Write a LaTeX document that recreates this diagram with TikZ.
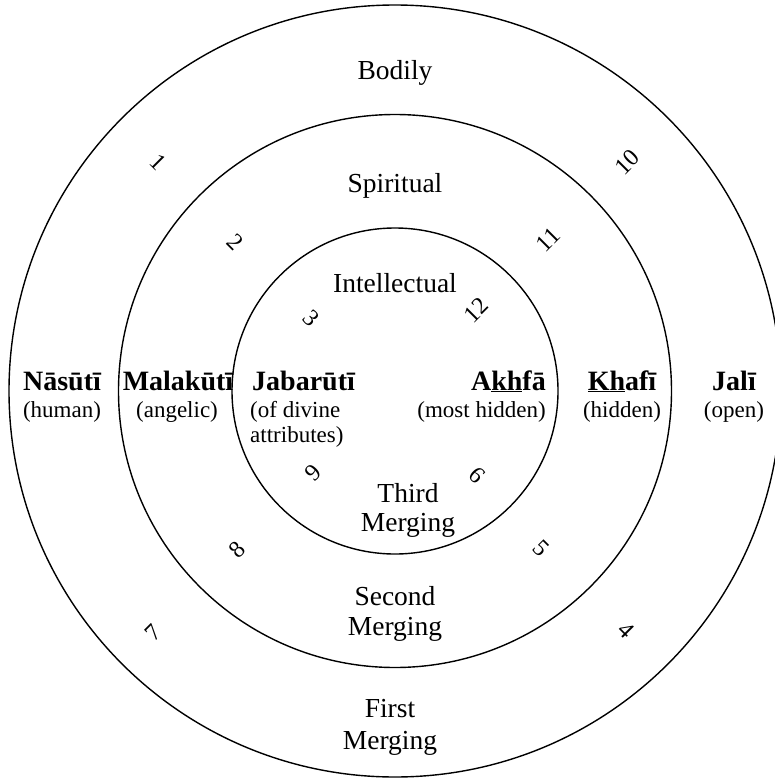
\documentclass[tikz,border=0pt]{standalone}
\usepackage{fontspec}
\setmainfont{Liberation Serif}
\begin{document}
\begin{tikzpicture}[x=1pt,y=-1pt,
  ring/.style={draw, line width=1.4pt},
  lvl/.style={font=\fontsize{27.5}{32}\selectfont, inner sep=0pt, anchor=base},
  bname/.style={font=\fontsize{28}{32}\selectfont\bfseries, inner sep=0pt, anchor=base},
  gloss/.style={font=\fontsize{23}{27}\selectfont, inner sep=0pt, anchor=base},
  stepnum/.style={font=\fontsize{24}{28}\selectfont, inner sep=0pt}
]
\useasboundingbox (0,0) rectangle (775,779);

% three concentric rings
\coordinate (c) at (395,391);
\draw[ring] (c) circle[radius=386];
\draw[ring] (c) circle[radius=276.5];
\draw[ring] (c) circle[radius=163];

% levels
\node[lvl] (bodily) at (395,79) {Bodily};
\node[lvl] (spiritual) at (395,192) {Spiritual};
\node[lvl] (intellectual) at (395,292) {Intellectual};

% left side
\node[bname] (nasuti) at (62,390) {Nāsūtī};
\node[gloss] (human) at (62,417) {(human)};
\node[bname] (malakuti) at (178,390) {Malakūtī};
\node[gloss] (angelic) at (177,417) {(angelic)};
\node[bname, anchor=base west] (jabaruti) at (252,390) {Jabarūtī};
\node[gloss, anchor=base west] (divine1) at (250,417) {(of divine};
\node[gloss, anchor=base west] (divine2) at (250,442) {attributes)};

% right side
\node[bname, anchor=base east] (akhfa) at (546,390) {A\underline{kh}fā};
\node[gloss, anchor=base east] (mosthidden) at (546,417) {(most hidden)};
\node[bname] (khafi) at (622,390) {\underline{Kh}afī};
\node[gloss] (hidden) at (622,417) {(hidden)};
\node[bname] (jali) at (734,390) {Jalī};
\node[gloss] (open) at (734,417) {(open)};

% mergings
\node[lvl] (third1) at (408,502) {Third};
\node[lvl] (third2) at (408,531) {Merging};
\node[lvl] (second1) at (395,605) {Second};
\node[lvl] (second2) at (395,635) {Merging};
\node[lvl] (first1) at (390,717) {First};
\node[lvl] (first2) at (390,749) {Merging};

% numbered steps
\node[stepnum, rotate=-45] (n1) at (158,162) {1};
\node[stepnum, rotate=-45] (n2) at (235,242) {2};
\node[stepnum, rotate=-45] (n3) at (311,318) {3};
\node[stepnum, rotate=-45] (n4) at (626,630) {4};
\node[stepnum, rotate=-45] (n5) at (541,548) {5};
\node[stepnum, rotate=-45] (n6) at (477,475) {6};
\node[stepnum, rotate=45] (n7) at (153,633) {7};
\node[stepnum, rotate=45] (n8) at (237,550) {8};
\node[stepnum, rotate=45] (n9) at (313,473) {9};
\node[stepnum, rotate=45] (n10) at (627,162) {10};
\node[stepnum, rotate=45] (n11) at (548,240) {11};
\node[stepnum, rotate=45] (n12) at (476,310) {12};
\end{tikzpicture}
\end{document}
